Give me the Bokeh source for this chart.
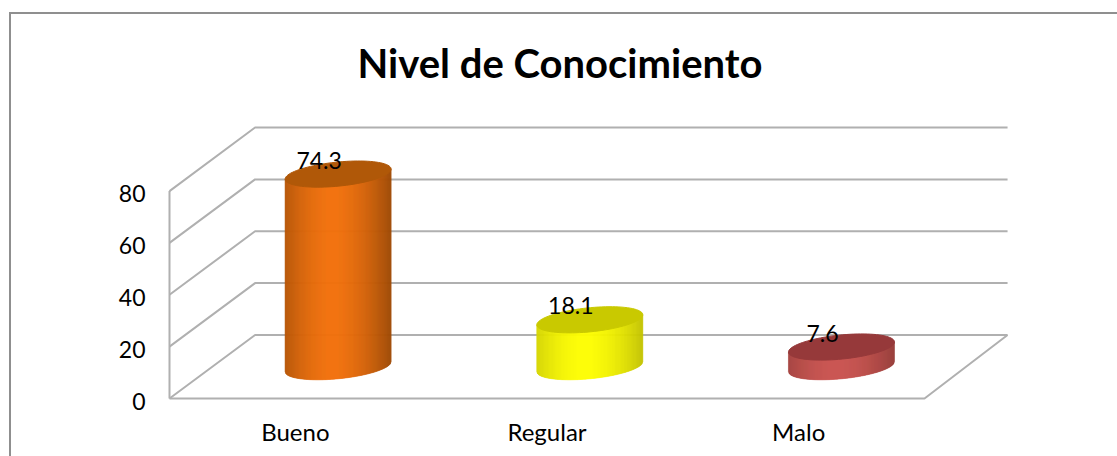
import numpy as np
from bokeh.plotting import figure
from bokeh.models import FixedTicker, Range1d
from bokeh.core.properties import value
from bokeh.embed import file_html
from bokeh.resources import INLINE

# ---- data ----
categories = ["Bueno", "Regular", "Malo"]
values = [74.3, 18.1, 7.6]
y_ticks = [0, 20, 40, 60, 80]
chart_title = "Nivel de Conocimiento"

# ---- style / layout ----
edge_colors = [(160, 76, 6), (196, 196, 0), (150, 58, 55)]
mid_colors = [(243, 114, 14), (255, 255, 0), (203, 82, 78)]
cap_colors = ["#b05808", "#c9c900", "#96393a"]
GRID = "#b0b0b0"
FONT = "Lato"
PX_X = 251.67       # screen px per category
PX_Y = 2.575        # screen px per value unit
DEPTH_X = 0.34      # category units
DEPTH_Y = 24.5      # value units
OX, OY = 11, 14     # canvas origin on the page (after css border)
W, H = 1117 - OX, 456 - OY
F_L, F_R, F_T, F_B = 168, 1020, 108, 401   # frame in reference px
Y0, Y1 = -(F_B - 398) / PX_Y, (398 - F_T) / PX_Y

p = figure(width=W + 2, height=H + 2, output_backend="svg", toolbar_location=None,
           x_range=(-0.5 - 3 / PX_X, -0.5 + (F_R - 169) / PX_X),
           y_range=(Y0, Y1),
           min_border_left=F_L - OX - 2, min_border_right=W - (F_R - OX) + 2,
           min_border_top=F_T - OY - 2, min_border_bottom=H - (F_B - OY) + 2,
           outline_line_color=None, background_fill_color="white",
           border_fill_color="white",
           styles={"margin-left": "9px", "margin-top": "12px",
                   "border-left": "2px solid #8f8f8f",
                   "border-top": "2px solid #8f8f8f"})
p.grid.visible = False
# tick labels sit about 1 value unit lower than their lines in the reference
p.extra_y_ranges = {"labels": Range1d(Y0 + 1, Y1 + 1)}

# wall and floor lines
xl, xr = -0.5, 2.5
for t in y_ticks:
    p.line([xl, xl + DEPTH_X, xr + DEPTH_X - 0.01], [t, t + DEPTH_Y, t + DEPTH_Y],
           line_color=GRID, line_width=2)
p.line([xl, xl], [y_ticks[0], y_ticks[-1]], line_color=GRID, line_width=2)
p.line([xl, xr, xr + DEPTH_X - 0.01], [0, 0, DEPTH_Y], line_color=GRID, line_width=2)

# cylinders
HALF_W = 53 / PX_X
RY = 12 / PX_Y
SHEAR = 5 / PX_Y / HALF_W
N = 53


def ring(cx, cy):
    t = np.linspace(0, 2 * np.pi, 90)
    x = cx + HALF_W * np.cos(t)
    y = cy + RY * np.sin(t) + SHEAR * (x - cx)
    return x, y


CX_SHIFT = 0.17
for i, v in enumerate(values):
    cx = i + CX_SHIFT
    base = DEPTH_Y / 2
    u = np.linspace(-1, 1, 2 * N + 1)
    xs, ys, cols = [], [], []
    for a, b in zip(u[:-1], u[1:]):
        xa, xb = cx + a * HALF_W, cx + b * HALF_W
        la = base + a * HALF_W * SHEAR - RY * np.sqrt(max(0, 1 - a * a))
        lb = base + b * HALF_W * SHEAR - RY * np.sqrt(max(0, 1 - b * b))
        ua = base + v + a * HALF_W * SHEAR
        ub = base + v + b * HALF_W * SHEAR
        xs.append([xa, xb, xb, xa])
        ys.append([la, lb, ub, ua])
        m = (a + b) / 2
        f = max(0.0, 1 - (abs(m + 0.1) / 1.1) ** 1.7)
        c = [int(e + (h - e) * f) for e, h in zip(edge_colors[i], mid_colors[i])]
        cols.append("#%02x%02x%02x" % tuple(c))
    p.patches(xs, ys, fill_color=cols, line_color=cols, line_width=0.6)
    x, y = ring(cx, base + v)
    p.patch(x, y, fill_color=cap_colors[i], line_color=cap_colors[i], line_width=1)

# value labels
p.text([i + CX_SHIFT for i in range(3)],
       [v + DEPTH_Y / 2 for v in values],
       text=[str(v) for v in values], x_offset=-19, y_offset=-14,
       text_align="center", text_baseline="middle", text_color="black",
       text_font=value(FONT), text_font_size="23px")

# axes
ya = p.yaxis[0]
ya.y_range_name = "labels"
ya.ticker = FixedTicker(ticks=y_ticks)
ya.axis_line_color = None
ya.major_tick_line_color = None
ya.minor_tick_line_color = None
ya.major_label_standoff = 15
ya.major_label_text_font = FONT
ya.major_label_text_font_size = "23px"
ya.major_label_text_color = "black"

xa = p.xaxis[0]
xa.ticker = FixedTicker(ticks=[0, 1, 2])
xa.major_label_overrides = {i: c for i, c in enumerate(categories)}
xa.axis_line_color = None
xa.major_tick_line_color = None
xa.minor_tick_line_color = None
xa.major_label_standoff = 9
xa.major_label_text_font = FONT
xa.major_label_text_font_size = "24px"
xa.major_label_text_color = "black"

# title
p.title.text = chart_title
p.title.text_font = FONT
p.title.text_font_size = "40px"
p.title.text_font_style = "bold"
p.title.text_color = "black"
p.title.align = "left"
p.title.offset = 191
p.title.standoff = 40

open("out.html", "w").write(file_html(p, INLINE))
